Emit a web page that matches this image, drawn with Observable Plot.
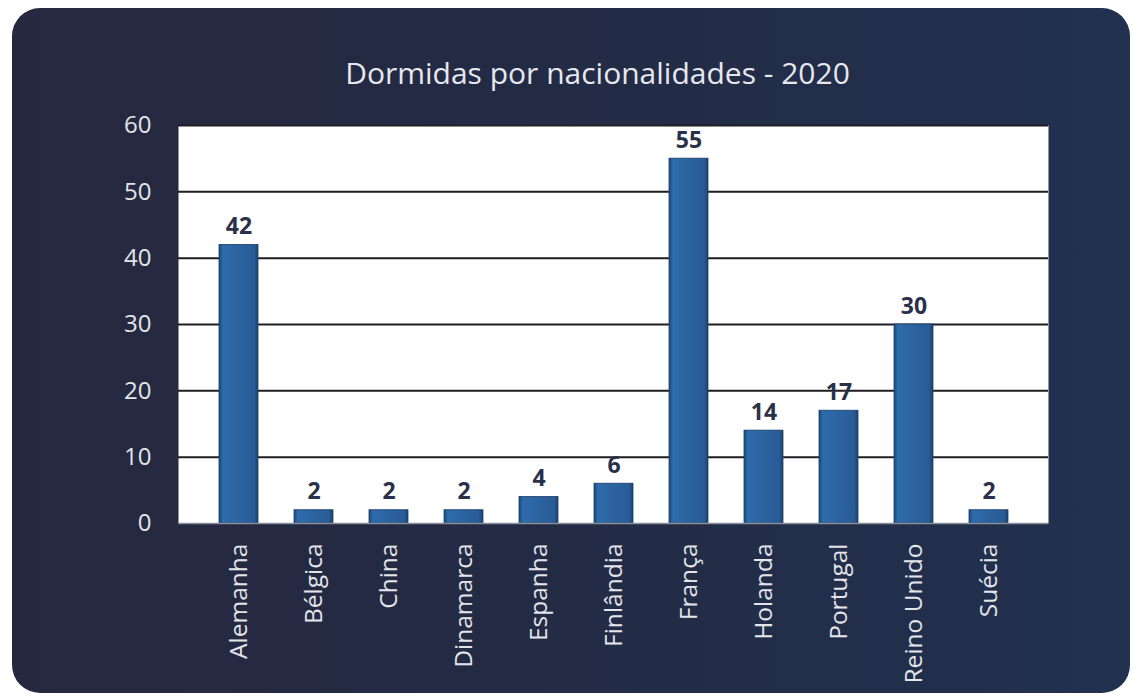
<!DOCTYPE html>
<html>
<head>
<meta charset="utf-8">
<script src="https://cdn.jsdelivr.net/npm/d3@7"></script>
<script src="https://cdn.jsdelivr.net/npm/@observablehq/plot@0.6"></script>
<style>
  html, body { margin: 0; padding: 0; background: #ffffff; width: 1133px; height: 697px; overflow: hidden; }
  #panel { position: absolute; left: 12px; top: 8px; width: 1118px; height: 685px; border-radius: 28px;
    background: linear-gradient(90deg, #26283f 0%, #232b45 50%, #21314f 100%); }
  #title { position: absolute; left: 0; top: 52px; width: 1195px; text-align: center;
    font-family: "Open Sans", sans-serif; font-size: 30px; color: #e6e8ee; }
  #chart { position: absolute; left: 0; top: 0; }
</style>
</head>
<body>
<div id="panel"></div>
<div id="title">Dormidas por nacionalidades - 2020</div>
<div id="chart"></div>
<script>
const countries = ["Alemanha", "Bélgica", "China", "Dinamarca", "Espanha", "Finlândia", "França", "Holanda", "Portugal", "Reino Unido", "Suécia"];
const values = [42, 2, 2, 2, 4, 6, 55, 14, 17, 30, 2];
const yTicks = [0, 10, 20, 30, 40, 50, 60];

const data = countries.map((c, i) => ({country: c, value: values[i]}));

const defs = () => {
  const svg = d3.create("svg:defs");
  const g = svg.append("linearGradient").attr("id", "barGrad").attr("x1", "0").attr("x2", "1").attr("y1", "0").attr("y2", "0");
  g.append("stop").attr("offset", "0%").attr("stop-color", "#1c4678");
  g.append("stop").attr("offset", "10%").attr("stop-color", "#2f6cab");
  g.append("stop").attr("offset", "50%").attr("stop-color", "#2b63a0");
  g.append("stop").attr("offset", "90%").attr("stop-color", "#285c96");
  g.append("stop").attr("offset", "100%").attr("stop-color", "#19416f");
  return svg.node();
};

const chart = Plot.plot({
  width: 1133,
  height: 697,
  marginLeft: 178,
  marginRight: 85,
  marginTop: 125,
  marginBottom: 174,
  style: { background: "transparent", fontFamily: "'Open Sans', sans-serif" },
  x: { domain: countries, padding: 0.48, label: null },
  y: { domain: [0, 60], label: null },
  marks: [
    defs,
    Plot.frame({ fill: "#ffffff", stroke: "none" }),
    Plot.ruleY(yTicks.filter(d => d > 0), { stroke: "#1e1e22", strokeWidth: 2 }),
    Plot.barY(data, { x: "country", y: "value", fill: "url(#barGrad)", stroke: "#1c3f6a", strokeWidth: 0.8 }),
    Plot.text(data, { x: "country", y: "value", text: d => String(d.value), lineAnchor: "bottom", dy: -11,
      fill: "#2b3049", fontSize: 23, fontWeight: "bold" }),
    Plot.ruleY([0], { stroke: "#8a8f9c", strokeWidth: 1.5 }),
    Plot.axisY({ ticks: yTicks, tickSize: 0, tickPadding: 27, fontSize: 24, fill: "#e2e4ea", label: null }),
    Plot.axisX({ tickSize: 0, tickPadding: 20, tickRotate: -90, fontSize: 24.5, fill: "#e2e4ea", label: null })
  ]
});
document.getElementById("chart").appendChild(chart);
</script>
</body>
</html>
